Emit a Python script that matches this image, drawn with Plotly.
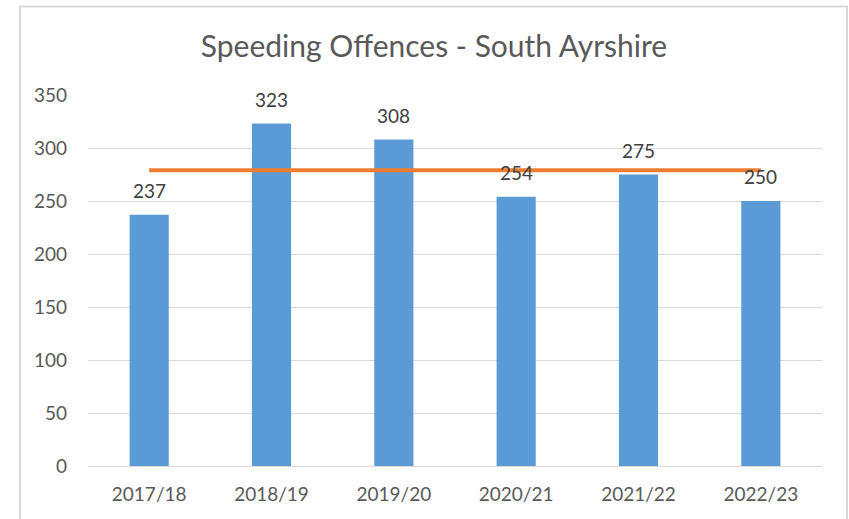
import plotly.graph_objects as go

categories = ["2017/18", "2018/19", "2019/20", "2020/21", "2021/22", "2022/23"]
offences = [237, 323, 308, 254, 275, 250]
average_line = [279, 279, 279, 279, 279, 279]
y_ticks = [0, 50, 100, 150, 200, 250, 300, 350]

W, H = 849, 519
L, R, T, B = 88, 27, 95, 53
PW, PH = W - L - R, H - T - B

TXT = "#595959"
FONT = "Lato"

fig = go.Figure()
fig.add_trace(go.Bar(x=categories, y=offences, marker=dict(color="#5B9BD5", line=dict(width=0)),
                     hoverinfo="x+y"))
fig.add_trace(go.Scatter(x=categories, y=average_line, mode="lines",
                         line=dict(color="#ED7D31", width=4), hoverinfo="y"))

for c, v in zip(categories, offences):
    fig.add_annotation(x=c, y=v, text=str(v), showarrow=False, yanchor="bottom",
                       yshift=11, font=dict(family=FONT, size=19, color="#404040"))

def px_x(p):
    return (p - L) / PW

def px_y(p):
    return (H - B - p) / PH

fig.add_shape(type="rect", xref="paper", yref="paper",
              x0=px_x(20), x1=px_x(847), y0=px_y(540), y1=px_y(6.5),
              line=dict(color="#D9D9D9", width=2), fillcolor="rgba(0,0,0,0)", layer="below")

fig.update_layout(
    width=W, height=H,
    margin=dict(l=L, r=R, t=T, b=B),
    paper_bgcolor="white", plot_bgcolor="white",
    showlegend=False,
    bargap=0.68,
    title=dict(text="Speeding Offences - South Ayrshire", x=px_x(434), xref="paper",
               xanchor="center", y=1 - 46 / H, yanchor="middle",
               font=dict(family=FONT, size=30, color=TXT)),
    font=dict(family=FONT, color=TXT),
)
fig.update_xaxes(showgrid=False, showline=False, ticks="", tickfont=dict(size=19, color=TXT),
                 ticklabelstandoff=15)
fig.update_yaxes(range=[0, 350], tickvals=y_ticks, showgrid=True, gridcolor="#D9D9D9", gridwidth=1,
                 zeroline=True, zerolinecolor="#D9D9D9", zerolinewidth=1, showline=False,
                 ticks="", tickfont=dict(size=19, color=TXT), ticklabelstandoff=20)

fig.write_html("out.html", config={"displayModeBar": False},
               post_script="document.body.style.margin='0';document.body.style.overflow='hidden';")
